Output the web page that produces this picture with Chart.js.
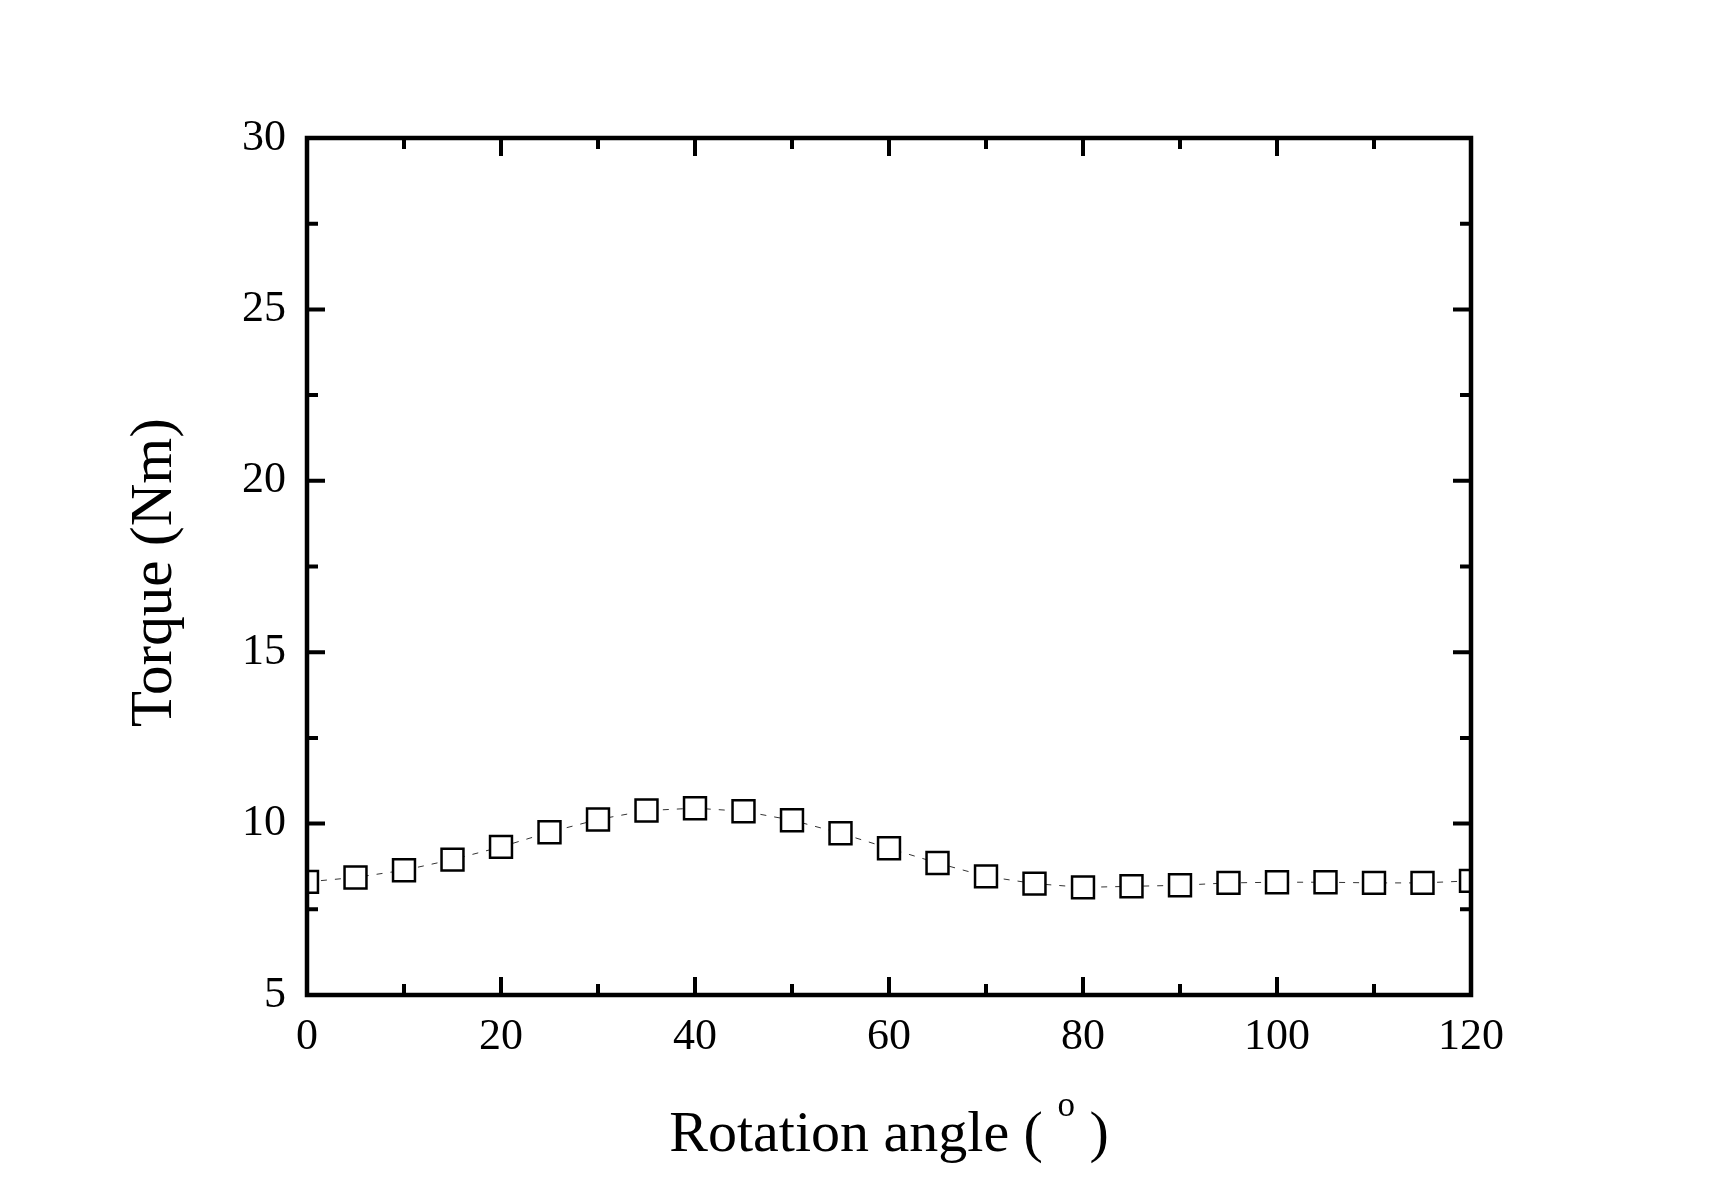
<!DOCTYPE html>
<html><head><meta charset="utf-8">
<script src="https://cdn.jsdelivr.net/npm/chart.js@4"></script>
<style>html,body{margin:0;padding:0;background:#fff;overflow:hidden}</style>
</head><body>
<canvas id="c" width="1710" height="1194" style="width:1710px;height:1194px;display:block"></canvas>
<script>
const angles = [0,5,10,15,20,25,30,35,40,45,50,55,60,65,70,75,80,85,90,95,100,105,110,115,120];
const torque = [8.30,8.43,8.64,8.95,9.32,9.75,10.12,10.38,10.45,10.36,10.10,9.72,9.28,8.85,8.46,8.25,8.14,8.17,8.20,8.27,8.29,8.29,8.27,8.27,8.33];
const xMajorTicks = [0,20,40,60,80,100,120];
const xMinorTicks = [10,30,50,70,90,110];
const yMajorTicks = [5,10,15,20,25,30];
const yMinorTicks = [7.5,12.5,17.5,22.5,27.5];
const xTitleParts = ['Rotation angle ( ', 'o', ' )'];
const yTitle = 'Torque (Nm)';

const FONT = '"Liberation Serif", "Times New Roman", serif';

const framePlugin = {
  id: 'frame',
  afterDatasetsDraw(chart) {
    const ctx = chart.ctx, a = chart.chartArea;
    const xs = chart.scales.x, ys = chart.scales.y;
    ctx.save();
    ctx.strokeStyle = '#000';
    ctx.lineCap = 'butt';
    const tick = (vals, len, w) => {
      ctx.lineWidth = w;
      ctx.beginPath();
      vals.forEach(v => {
        const px = xs.getPixelForValue(v);
        ctx.moveTo(px, a.bottom); ctx.lineTo(px, a.bottom - len);
        ctx.moveTo(px, a.top); ctx.lineTo(px, a.top + len);
      });
      ctx.stroke();
    };
    const ytick = (vals, len, w) => {
      ctx.lineWidth = w;
      ctx.beginPath();
      vals.forEach(v => {
        const py = ys.getPixelForValue(v);
        ctx.moveTo(a.left, py); ctx.lineTo(a.left + len, py);
        ctx.moveTo(a.right, py); ctx.lineTo(a.right - len, py);
      });
      ctx.stroke();
    };
    tick(xMajorTicks, 18, 4); tick(xMinorTicks, 11, 4);
    ytick(yMajorTicks, 18, 4); ytick(yMinorTicks, 11, 4);
    ctx.lineWidth = 4.5;
    ctx.strokeRect(a.left, a.top, a.right - a.left, a.bottom - a.top);
    ctx.restore();
  },
  afterDraw(chart) {
    const ctx = chart.ctx, a = chart.chartArea;
    ctx.save();
    ctx.fillStyle = '#000';
    ctx.textBaseline = 'alphabetic';
    const big = '58px ' + FONT, small = '35px ' + FONT;
    ctx.font = big; const w1 = ctx.measureText(xTitleParts[0]).width;
    const w3 = ctx.measureText(xTitleParts[2]).width;
    ctx.font = small; const w2 = ctx.measureText(xTitleParts[1]).width;
    const total = w1 + w2 + w3;
    let x = (a.left + a.right) / 2 - total / 2;
    const base = a.bottom + 156;
    ctx.textAlign = 'left';
    ctx.font = big; ctx.fillText(xTitleParts[0], x, base); x += w1;
    ctx.font = small; ctx.fillText(xTitleParts[1], x, base - 35); x += w2;
    ctx.font = big; ctx.fillText(xTitleParts[2], x, base);
    ctx.translate(a.left - 136, (a.top + a.bottom) / 2 + 6);
    ctx.rotate(-Math.PI / 2);
    ctx.textAlign = 'center';
    ctx.font = '59px ' + FONT;
    ctx.fillText(yTitle, 0, 0);
    ctx.restore();
  }
};

new Chart(document.getElementById('c'), {
  type: 'line',
  data: {
    datasets: [{
      data: angles.map((a, i) => ({x: a, y: torque[i]})),
      borderColor: '#333',
      borderWidth: 1,
      borderDash: [6, 8],
      pointStyle: 'rect',
      pointRadius: 15.5,
      pointHoverRadius: 15.5,
      pointBorderWidth: 2.5,
      pointBorderColor: '#000',
      pointBackgroundColor: '#fff',
      clip: 0,
      tension: 0
    }]
  },
  options: {
    responsive: false,
    animation: false,
    devicePixelRatio: 1,
    layout: {padding: {top: 138, right: 239, left: 0, bottom: 0}},
    plugins: {legend: {display: false}, tooltip: {enabled: false}},
    events: [],
    scales: {
      x: {
        type: 'linear', min: 0, max: 120,
        afterFit(s) { s.height = 199; },
        afterBuildTicks(s) { s.ticks = xMajorTicks.map(v => ({value: v})); },
        grid: {display: false, drawTicks: false},
        border: {display: false},
        ticks: {padding: 16, color: '#000', font: {family: FONT, size: 44}, maxRotation: 0}
      },
      y: {
        type: 'linear', min: 5, max: 30,
        afterFit(s) { s.width = 307; },
        afterBuildTicks(s) { s.ticks = yMajorTicks.map(v => ({value: v})); },
        grid: {display: false, drawTicks: false},
        border: {display: false},
        ticks: {padding: 21, color: '#000', font: {family: FONT, size: 44}}
      }
    }
  },
  plugins: [framePlugin]
});
</script>
</body></html>
